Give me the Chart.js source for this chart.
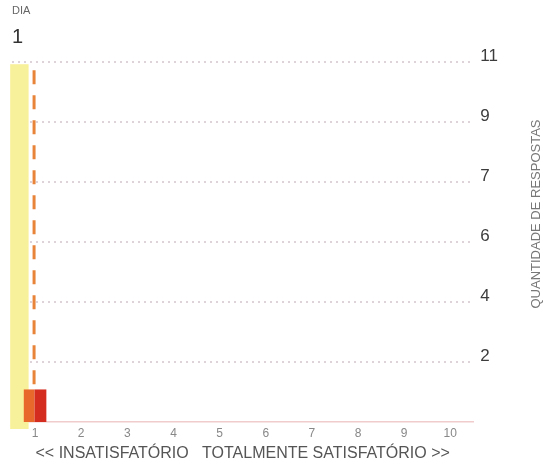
<!DOCTYPE html>
<html>
<head>
<meta charset="utf-8">
<script src="https://cdn.jsdelivr.net/npm/chart.js@4/dist/chart.umd.min.js"></script>
<style>
  body { margin: 0; background: #fff; }
</style>
</head>
<body>
<canvas id="diaCanvas" width="543" height="466"></canvas>
<script>
const categories = ["1", "2", "3", "4", "5", "6", "7", "8", "9", "10"];
const responses = [1, 0, 0, 0, 0, 0, 0, 0, 0, 0];
const yTickLabels = ["2", "4", "6", "7", "9", "11"];
const yMax = 11;
const selectedDay = "1";

const fontFamily = "'Liberation Sans', Arial, sans-serif";

// yellow band + dashed marker behind the bars, rotated axis title on the right
const overlay = {
  id: "overlay",
  beforeDatasetsDraw(chart) {
    const ctx = chart.ctx;
    const area = chart.chartArea;
    const x = chart.scales.x;
    const y = chart.scales.y;
    const idx = categories.indexOf(selectedDay);
    const cx = x.getPixelForValue(idx);
    const cw = x.getPixelForValue(1) - x.getPixelForValue(0);
    ctx.save();
    ctx.fillStyle = "#f8f19c";
    ctx.fillRect(cx - 0.54 * cw, area.top + 2, 0.4 * cw, area.bottom - area.top + 5);
    ctx.setLineDash([14, 11]);
    ctx.strokeStyle = "#e8843a";
    ctx.lineWidth = 3;
    ctx.beginPath();
    ctx.moveTo(cx - 1, area.top + 8);
    ctx.lineTo(cx - 1, y.getPixelForValue(responses[idx]));
    ctx.stroke();
    ctx.restore();
  },
  afterDraw(chart) {
    const ctx = chart.ctx;
    ctx.save();
    ctx.translate(536, 214);
    ctx.rotate(-Math.PI / 2);
    ctx.font = "13px " + fontFamily;
    ctx.fillStyle = "#777";
    ctx.textAlign = "center";
    ctx.textBaseline = "middle";
    ctx.fillText("QUANTIDADE DE RESPOSTAS", 0, 0);
    ctx.restore();
  }
};

new Chart(document.getElementById("diaCanvas"), {
  type: "bar",
  data: {
    labels: categories,
    datasets: [{
      data: responses,
      backgroundColor: "#d52c20",
      borderColor: "#e8682c",
      borderWidth: { left: 11, right: 0, top: 0, bottom: 0 },
      borderSkipped: false,
      barPercentage: 0.5,
      categoryPercentage: 1
    }]
  },
  options: {
    responsive: false,
    animation: false,
    layout: { padding: { top: 4, left: 12, right: 38, bottom: 4 } },
    plugins: {
      legend: { display: false },
      tooltip: { enabled: false },
      title: {
        display: true,
        text: "DIA",
        align: "start",
        color: "#666",
        font: { family: fontFamily, size: 11, weight: "normal" },
        padding: { top: 0, bottom: 8 }
      },
      subtitle: {
        display: true,
        text: selectedDay,
        align: "start",
        color: "#333",
        font: { family: fontFamily, size: 20 },
        padding: { top: 0, bottom: 13 }
      }
    },
    scales: {
      x: {
        grid: { display: false, drawTicks: false },
        border: { color: "#f0cccc", width: 1.5 },
        ticks: {
          color: "#888",
          font: { family: fontFamily, size: 12, lineHeight: 1 },
          padding: 6,
          maxRotation: 0
        },
        title: {
          display: true,
          text: "<< INSATISFATÓRIO   TOTALMENTE SATISFATÓRIO >>",
          color: "#555",
          font: { family: fontFamily, size: 16, lineHeight: 1 },
          padding: { top: 0, bottom: 0 }
        }
      },
      y: {
        position: "right",
        min: 0,
        max: yMax,
        afterBuildTicks(scale) {
          scale.ticks = yTickLabels.map((_, i) => ({ value: (i + 1) * yMax / yTickLabels.length }));
        },
        grid: { color: "rgba(195,175,185,0.55)", lineWidth: 2, drawTicks: false },
        border: { display: false, dash: [2, 4] },
        ticks: {
          color: "#3c3c3c",
          font: { family: fontFamily, size: 17 },
          padding: 7,
          labelOffset: -6,
          callback: (value, index) => yTickLabels[index]
        }
      }
    }
  },
  plugins: [overlay]
});
</script>
</body>
</html>
